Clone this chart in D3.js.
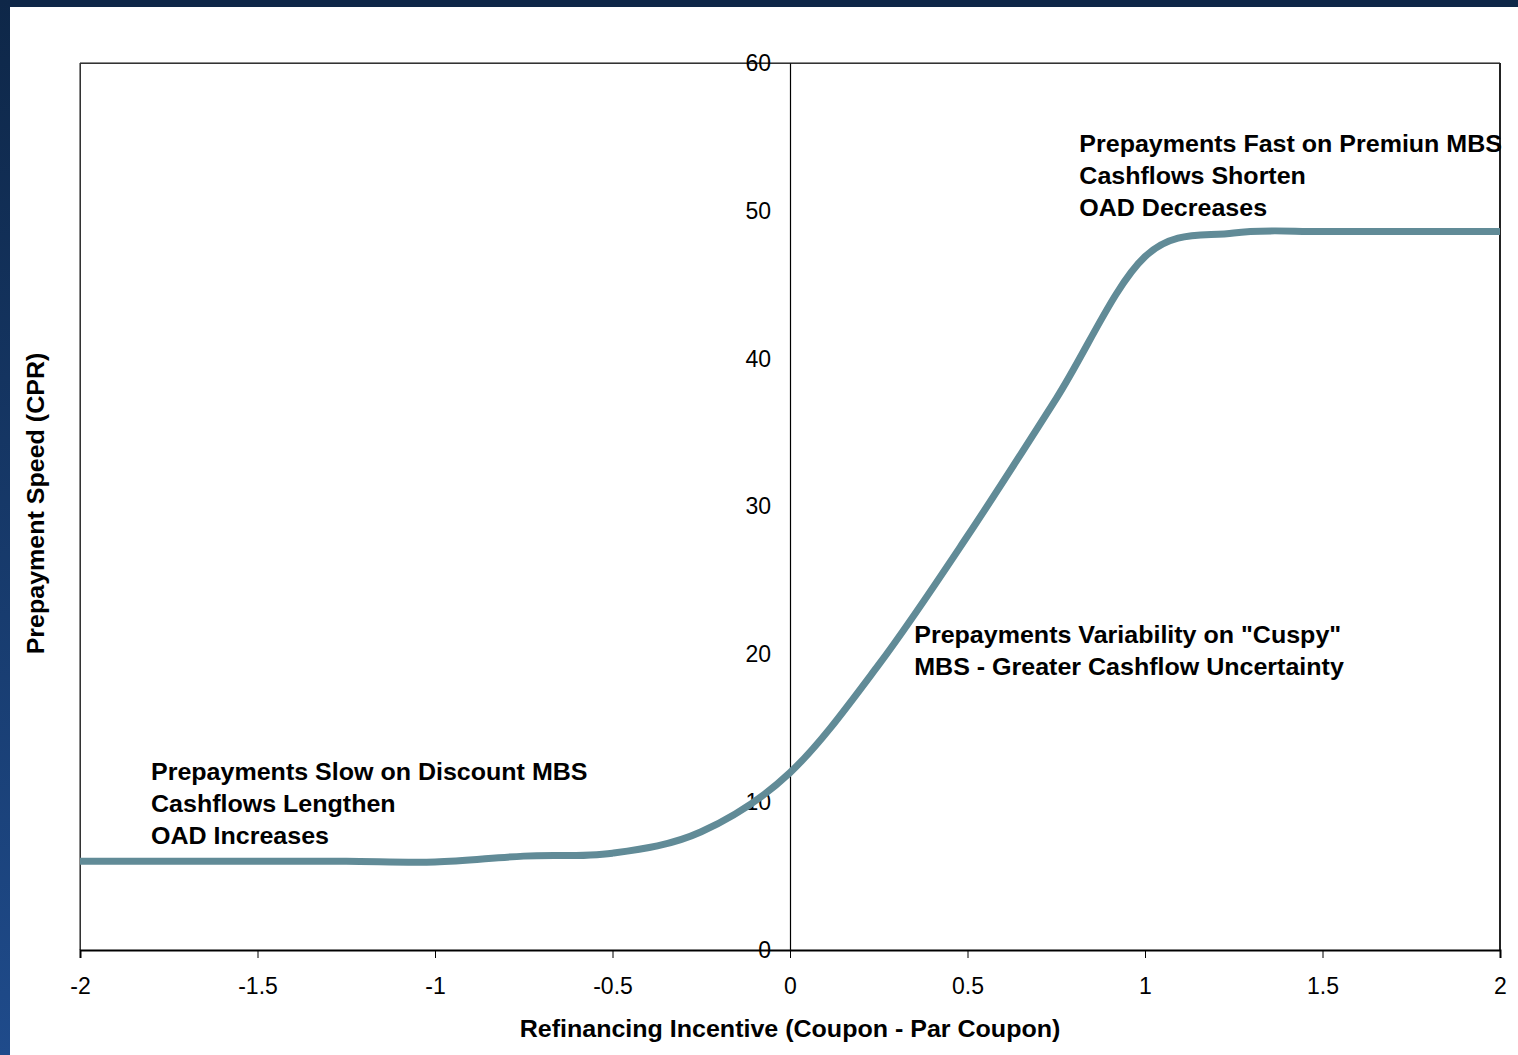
<!DOCTYPE html>
<html>
<head>
<meta charset="utf-8">
<script src="https://cdn.jsdelivr.net/npm/d3@7"></script>
<style>
  html, body { margin: 0; padding: 0; background: #ffffff; }
  svg { display: block; }
  text { font-family: "Liberation Sans", Arial, sans-serif; fill: #000; }
</style>
</head>
<body>
<svg id="chart" width="1518" height="1055"></svg>
<script>
// Refinancing incentive (coupon minus par coupon) and prepayment speed (CPR)
const incentive = [-2, -1.75, -1.5, -1.25, -1, -0.75, -0.5, -0.25, 0, 0.25, 0.5, 0.75, 1, 1.25, 1.5, 1.75, 2];
const cpr       = [6.0, 6.0, 6.0, 6.0, 5.95, 6.35, 6.55, 8.0, 12.0, 19.3, 28.0, 37.3, 46.9, 48.5, 48.6, 48.6, 48.6];

const xTicks = [-2, -1.5, -1, -0.5, 0, 0.5, 1, 1.5, 2];
const yTicks = [0, 10, 20, 30, 40, 50, 60];

const notes = [
  { x: -1.8, y: 11.53, lines: ["Prepayments Slow on Discount MBS", "Cashflows Lengthen", "OAD Increases"] },
  { x: 0.35, y: 20.75, lines: ["Prepayments Variability on \"Cuspy\"", "MBS - Greater Cashflow Uncertainty"] },
  { x: 0.815, y: 54.0, lines: ["Prepayments Fast on Premiun MBS", "Cashflows Shorten", "OAD Decreases"] }
];

const svg = d3.select("#chart");
const W = 1518, H = 1055;
const plot = { left: 80, right: 1500, top: 63, bottom: 950 };
const FONT = 23.5, STRETCH = 1.065;

// Slide frame: navy band on top, gradient band on the left
const defs = svg.append("defs");
const grad = defs.append("linearGradient").attr("id", "sideBand")
  .attr("x1", 0).attr("y1", 0).attr("x2", 0).attr("y2", 1);
grad.append("stop").attr("offset", "0%").attr("stop-color", "#0e2748");
grad.append("stop").attr("offset", "100%").attr("stop-color", "#1f4b8b");

svg.append("rect").attr("x", 0).attr("y", 0).attr("width", W).attr("height", H).attr("fill", "#fff");
svg.append("rect").attr("x", 0).attr("y", 0).attr("width", W).attr("height", 7).attr("fill", "#0e2748");
svg.append("rect").attr("x", 0).attr("y", 0).attr("width", 10).attr("height", H).attr("fill", "url(#sideBand)");

const x = d3.scaleLinear().domain([-2, 2]).range([plot.left, plot.right]);
const y = d3.scaleLinear().domain([0, 60]).range([plot.bottom, plot.top]);

// Plot area border
const g = svg.append("g");
g.append("line").attr("x1", plot.left).attr("x2", plot.right).attr("y1", plot.top - 0.5).attr("y2", plot.top - 0.5)
  .attr("stroke", "#8a8a8a").attr("stroke-width", 1);
g.append("line").attr("x1", plot.left).attr("x2", plot.right).attr("y1", plot.top + 0.5).attr("y2", plot.top + 0.5)
  .attr("stroke", "#333").attr("stroke-width", 1);
g.append("line").attr("x1", plot.left - 0.5).attr("x2", plot.left - 0.5).attr("y1", plot.top).attr("y2", plot.bottom)
  .attr("stroke", "#8a8a8a").attr("stroke-width", 1);
g.append("line").attr("x1", plot.left + 0.5).attr("x2", plot.left + 0.5).attr("y1", plot.top).attr("y2", plot.bottom)
  .attr("stroke", "#333").attr("stroke-width", 1);
g.append("line").attr("x1", plot.right).attr("x2", plot.right).attr("y1", plot.top).attr("y2", plot.bottom)
  .attr("stroke", "#222").attr("stroke-width", 2);

// Plain number labels with an ASCII hyphen for negatives
const plain = d => String(d);

// Horizontal axis along the bottom
const xAxis = d3.axisBottom(x).tickValues(xTicks).tickSize(8).tickPadding(20).tickFormat(plain);
const gx = svg.append("g").attr("transform", `translate(0,${plot.bottom})`).call(xAxis);
gx.select(".domain").attr("stroke", "#000").attr("stroke-width", 2);
gx.selectAll(".tick line").attr("stroke", "#000").attr("stroke-width", 1);
gx.selectAll(".tick text").attr("font-size", 23).attr("font-family", "Liberation Sans, Arial, sans-serif").attr("fill", "#000");

// Vertical axis crossing at zero incentive
const yAxis = d3.axisLeft(y).tickValues(yTicks).tickSize(0).tickPadding(19).tickFormat(plain);
const gy = svg.append("g").attr("transform", `translate(${x(0)},0)`).call(yAxis);
gy.select(".domain").attr("stroke", "#000").attr("stroke-width", 1.2);
gy.selectAll(".tick text").attr("font-size", 23).attr("font-family", "Liberation Sans, Arial, sans-serif").attr("fill", "#000");

// Prepayment S-curve
const line = d3.line()
  .x((d, i) => x(incentive[i]))
  .y(d => y(d))
  .curve(d3.curveCardinal.tension(0));
svg.append("path").datum(cpr)
  .attr("d", line)
  .attr("fill", "none")
  .attr("stroke", "#618b97")
  .attr("stroke-width", 7)
  .attr("stroke-linejoin", "round")
  .attr("stroke-linecap", "butt");

// Annotations (slightly widened bold face)
notes.forEach(n => {
  const grp = svg.append("g")
    .attr("transform", `translate(${x(n.x)},${y(n.y)}) scale(${STRETCH},1)`);
  const t = grp.append("text")
    .attr("x", 0).attr("y", 0)
    .attr("font-size", FONT).attr("font-weight", "bold");
  t.selectAll("tspan").data(n.lines).join("tspan")
    .attr("x", 0)
    .attr("dy", (d, i) => i === 0 ? 0 : 32)
    .text(d => d);
});

// Axis titles
svg.append("g")
  .attr("transform", `translate(${x(0)},1037) scale(${STRETCH},1)`)
  .append("text")
  .attr("text-anchor", "middle")
  .attr("font-size", FONT).attr("font-weight", "bold")
  .text("Refinancing Incentive (Coupon - Par Coupon)");

svg.append("g")
  .attr("transform", `translate(44,${(plot.top + plot.bottom) / 2 - 3}) rotate(-90) scale(${STRETCH},1)`)
  .append("text")
  .attr("text-anchor", "middle")
  .attr("font-size", FONT).attr("font-weight", "bold")
  .text("Prepayment Speed (CPR)");
</script>
</body>
</html>
